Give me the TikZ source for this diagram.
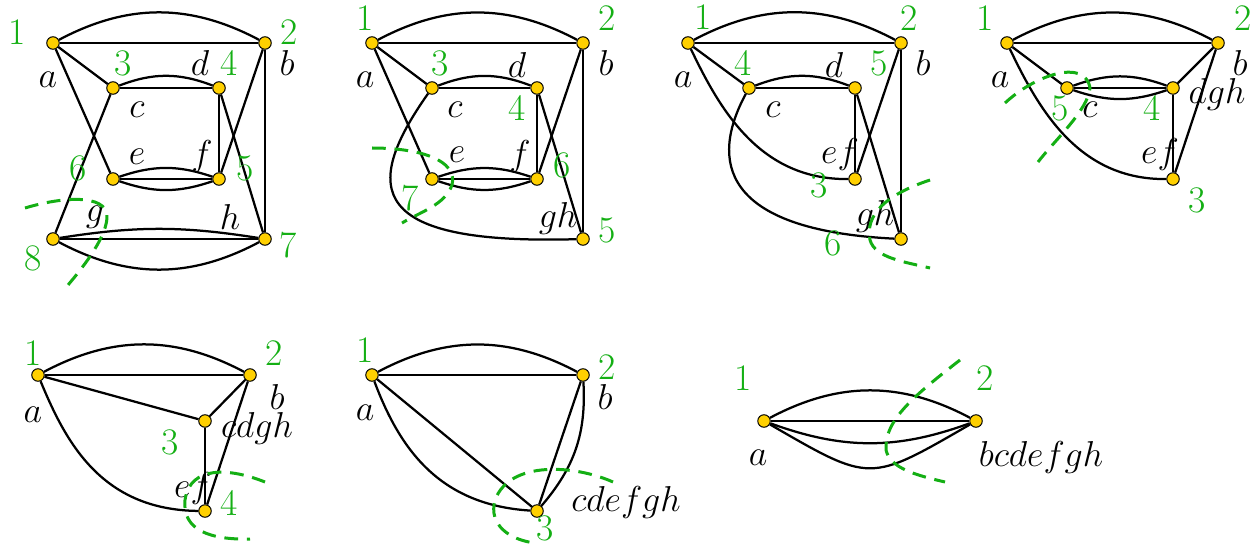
\documentclass[tikz,border=0pt]{standalone}
\usepackage{amsmath,amssymb}
\usepackage{xcolor}
\usepackage{tikz}
\usetikzlibrary{positioning}

\definecolor{cutgreen}{RGB}{20,175,20}
\definecolor{vtxyellow}{RGB}{255,208,0}

\begin{document}
\begin{tikzpicture}[
    x=0.4pt, y=0.4pt,
    line width=0.9pt,
    vtx/.style={circle, draw=black, fill=vtxyellow, line width=0.4pt, inner sep=0pt, minimum size=5pt},
    num/.style={text=cutgreen, font=\fontsize{15}{18}\selectfont, inner sep=0pt},
    lab/.style={font=\fontsize{15}{18}\selectfont, inner sep=0pt},
    cut/.style={cutgreen, line width=1.2pt, dash pattern=on 5.5pt off 3.5pt},
  ]
  \useasboundingbox (0,0) rectangle (1250,-545);

  % first graph
  \node[vtx] (a1) at (53,-43)   {};
  \node[vtx] (b1) at (265,-43)  {};
  \node[vtx] (c1) at (113,-88)  {};
  \node[vtx] (d1) at (219,-88)  {};
  \node[vtx] (e1) at (113,-179) {};
  \node[vtx] (f1) at (219,-179) {};
  \node[vtx] (g1) at (53,-239)  {};
  \node[vtx] (h1) at (265,-239) {};

  \draw (a1) -- (b1);
  \draw (a1) to[bend left=28] (b1);
  \draw (a1) -- (c1);
  \draw (a1) -- (e1);
  \draw (b1) -- (h1);
  \draw (b1) -- (f1);
  \draw (c1) -- (d1);
  \draw (c1) to[bend left=21] (d1);
  \draw (c1) -- (g1);
  \draw (d1) -- (f1);
  \draw (d1) -- (h1);
  \draw (e1) -- (f1);
  \draw (e1) to[bend left=19] (f1);
  \draw (e1) to[bend right=19] (f1);
  \draw (g1) -- (h1);
  \draw (g1) to[bend left=9] (h1);
  \draw (g1) to[bend right=28] (h1);

  \node[num] (n1a) at (17,-32)   {1};
  \node[num] (n1b) at (289,-32)  {2};
  \node[num] (n1c) at (123,-63)  {3};
  \node[num] (n1d) at (229,-63)  {4};
  \node[num] (n1f) at (245,-168) {5};
  \node[num] (n1e) at (78,-168)  {6};
  \node[num] (n1h) at (288,-245) {7};
  \node[num] (n1g) at (33,-258)  {8};
  \node[lab] (l1a) at (48,-80)   {$a$};
  \node[lab] (l1b) at (287,-63)  {$b$};
  \node[lab] (l1c) at (137,-110) {$c$};
  \node[lab] (l1d) at (200,-63)  {$d$};
  \node[lab] (l1e) at (137,-157) {$e$};
  \node[lab] (l1f) at (202,-157) {$f$};
  \node[lab] (l1g) at (95,-217)  {$g$};
  \node[lab] (l1h) at (230,-217) {$h$};

  \draw[cut] (25,-208) .. controls (65,-196) and (105,-195) .. (107,-215)
    .. controls (108,-235) and (85,-265) .. (68,-285);

  % second graph
  \node[vtx] (a2) at (372,-43)  {};
  \node[vtx] (b2) at (583,-43)  {};
  \node[vtx] (c2) at (432,-88)  {};
  \node[vtx] (d2) at (537,-88)  {};
  \node[vtx] (e2) at (432,-179) {};
  \node[vtx] (f2) at (537,-179) {};
  \node[vtx] (gh2) at (583,-239) {};

  \draw (a2) -- (b2);
  \draw (a2) to[bend left=28] (b2);
  \draw (a2) -- (c2);
  \draw (a2) -- (e2);
  \draw (c2) -- (d2);
  \draw (c2) to[bend left=21] (d2);
  \draw (d2) -- (f2);
  \draw (d2) -- (gh2);
  \draw (b2) -- (f2);
  \draw (b2) -- (gh2);
  \draw (e2) -- (f2);
  \draw (e2) to[bend left=19] (f2);
  \draw (e2) to[bend right=19] (f2);
  \draw (c2) .. controls (360,-190) and (370,-245) .. (gh2);

  \node[num] (n2a) at (365,-18)  {1};
  \node[num] (n2b) at (607,-18)  {2};
  \node[num] (n2c) at (440,-63)  {3};
  \node[num] (n2d) at (517,-108) {4};
  \node[num] (n2gh) at (607,-230) {5};
  \node[num] (n2f) at (562,-165) {6};
  \node[num] (n2e) at (410,-198) {7};
  \node[lab] (l2a) at (365,-80)  {$a$};
  \node[lab] (l2b) at (606,-63)  {$b$};
  \node[lab] (l2c) at (455,-110) {$c$};
  \node[lab] (l2d) at (517,-65)  {$d$};
  \node[lab] (l2e) at (457,-155) {$e$};
  \node[lab] (l2f) at (520,-157) {$f$};
  \node[lab] (l2gh) at (558,-218) {$gh$};

  \draw[cut] (372,-148) .. controls (420,-148) and (458,-160) .. (452,-185)
    .. controls (445,-205) and (420,-212) .. (402,-223);

  % third graph
  \node[vtx] (a3) at (688,-43)  {};
  \node[vtx] (b3) at (901,-43)  {};
  \node[vtx] (c3) at (749,-88)  {};
  \node[vtx] (d3) at (855,-88)  {};
  \node[vtx] (ef3) at (855,-179) {};
  \node[vtx] (gh3) at (901,-239) {};

  \draw (a3) -- (b3);
  \draw (a3) to[bend left=28] (b3);
  \draw (a3) -- (c3);
  \draw (c3) -- (d3);
  \draw (c3) to[bend left=21] (d3);
  \draw (d3) -- (ef3);
  \draw (d3) -- (gh3);
  \draw (b3) -- (ef3);
  \draw (b3) -- (gh3);
  \draw (a3) .. controls (720,-110) and (760,-180) .. (ef3);
  \draw (c3) .. controls (710,-160) and (720,-230) .. (gh3);

  \node[num] (n3a) at (703,-17)  {1};
  \node[num] (n3b) at (909,-18)  {2};
  \node[num] (n3ef) at (819,-185) {3};
  \node[num] (n3c) at (743,-63)  {4};
  \node[num] (n3d) at (879,-63)  {5};
  \node[num] (n3gh) at (833,-243) {6};
  \node[lab] (l3a) at (683,-80)  {$a$};
  \node[lab] (l3b) at (923,-63)  {$b$};
  \node[lab] (l3c) at (773,-110) {$c$};
  \node[lab] (l3d) at (834,-65)  {$d$};
  \node[lab] (l3ef) at (840,-155) {$ef$};
  \node[lab] (l3gh) at (875,-217) {$gh$};

  \draw[cut] (930,-180) .. controls (885,-195) and (865,-215) .. (870,-240)
    .. controls (875,-258) and (905,-262) .. (930,-268);

  % fourth graph
  \node[vtx] (a4) at (1007,-43)  {};
  \node[vtx] (b4) at (1218,-43)  {};
  \node[vtx] (c4) at (1067,-88)  {};
  \node[vtx] (dgh4) at (1173,-88) {};
  \node[vtx] (ef4) at (1173,-179) {};

  \draw (a4) -- (b4);
  \draw (a4) to[bend left=28] (b4);
  \draw (a4) -- (c4);
  \draw (c4) -- (dgh4);
  \draw (c4) to[bend left=20] (dgh4);
  \draw (c4) to[bend right=19] (dgh4);
  \draw (b4) -- (dgh4);
  \draw (b4) -- (ef4);
  \draw (dgh4) -- (ef4);
  \draw (a4) .. controls (1039,-110) and (1079,-180) .. (ef4);

  \node[num] (n4a) at (985,-18)   {1};
  \node[num] (n4b) at (1243,-18)  {2};
  \node[num] (n4ef) at (1197,-200) {3};
  \node[num] (n4dgh) at (1152,-108) {4};
  \node[num] (n4c) at (1060,-108) {5};
  \node[lab] (l4a) at (1000,-80)  {$a$};
  \node[lab] (l4b) at (1240,-63)  {$b$};
  \node[lab] (l4c) at (1090,-110) {$c$};
  \node[lab] (l4dgh) at (1217,-95) {$dgh$};
  \node[lab] (l4ef) at (1160,-155) {$ef$};

  \draw[cut] (1005,-103) .. controls (1035,-75) and (1085,-58) .. (1090,-88)
    .. controls (1088,-110) and (1055,-140) .. (1038,-162);

  % fifth graph
  \node[vtx] (a5) at (38,-375)  {};
  \node[vtx] (b5) at (250,-375) {};
  \node[vtx] (cdgh5) at (205,-421) {};
  \node[vtx] (ef5) at (205,-511) {};

  \draw (a5) -- (b5);
  \draw (a5) to[bend left=28] (b5);
  \draw (a5) -- (cdgh5);
  \draw (b5) -- (cdgh5);
  \draw (cdgh5) -- (ef5);
  \draw (b5) -- (ef5);
  \draw (a5) .. controls (65,-440) and (100,-510) .. (ef5);

  \node[num] (n5a) at (33,-353)  {1};
  \node[num] (n5b) at (274,-353) {2};
  \node[num] (n5cdgh) at (170,-442) {3};
  \node[num] (n5ef) at (229,-503) {4};
  \node[lab] (l5a) at (33,-415)  {$a$};
  \node[lab] (l5b) at (277,-397) {$b$};
  \node[lab] (l5cdgh) at (257,-428) {$cdgh$};
  \node[lab] (l5ef) at (193,-488) {$ef$};

  \draw[cut] (265,-482) .. controls (230,-468) and (190,-465) .. (185,-500)
    .. controls (182,-530) and (210,-540) .. (250,-539);

  % sixth graph
  \node[vtx] (a6) at (372,-375) {};
  \node[vtx] (b6) at (583,-375) {};
  \node[vtx] (cdefgh6) at (537,-511) {};

  \draw (a6) -- (b6);
  \draw (a6) to[bend left=28] (b6);
  \draw (a6) -- (cdefgh6);
  \draw (a6) .. controls (400,-450) and (440,-505) .. (cdefgh6);
  \draw (b6) -- (cdefgh6);
  \draw (b6) to[bend left=22] (cdefgh6);

  \node[num] (n6a) at (365,-350) {1};
  \node[num] (n6b) at (607,-367) {2};
  \node[num] (n6cdefgh) at (545,-528) {3};
  \node[lab] (l6a) at (365,-413) {$a$};
  \node[lab] (l6b) at (605,-397) {$b$};
  \node[lab] (l6cdefgh) at (626,-502) {$cdefgh$};

  \draw[cut] (613,-482) .. controls (575,-465) and (510,-460) .. (495,-500)
    .. controls (488,-525) and (510,-540) .. (535,-543);

  % seventh graph
  \node[vtx] (a7) at (764,-421) {};
  \node[vtx] (bcdefgh7) at (976,-421) {};

  \draw (a7) -- (bcdefgh7);
  \draw (a7) to[bend left=28] (bcdefgh7);
  \draw (a7) to[bend right=20] (bcdefgh7);
  \draw (a7) to[bend right=30, looseness=1.5] (bcdefgh7);

  \node[num] (n7a) at (743,-378) {1};
  \node[num] (n7b) at (985,-378) {2};
  \node[lab] (l7a) at (758,-458) {$a$};
  \node[lab] (l7b) at (1041,-457) {$bcdefgh$};

  \draw[cut] (960,-360) .. controls (915,-395) and (884,-420) .. (886,-450)
    .. controls (890,-468) and (915,-475) .. (945,-482);

\end{tikzpicture}
\end{document}
